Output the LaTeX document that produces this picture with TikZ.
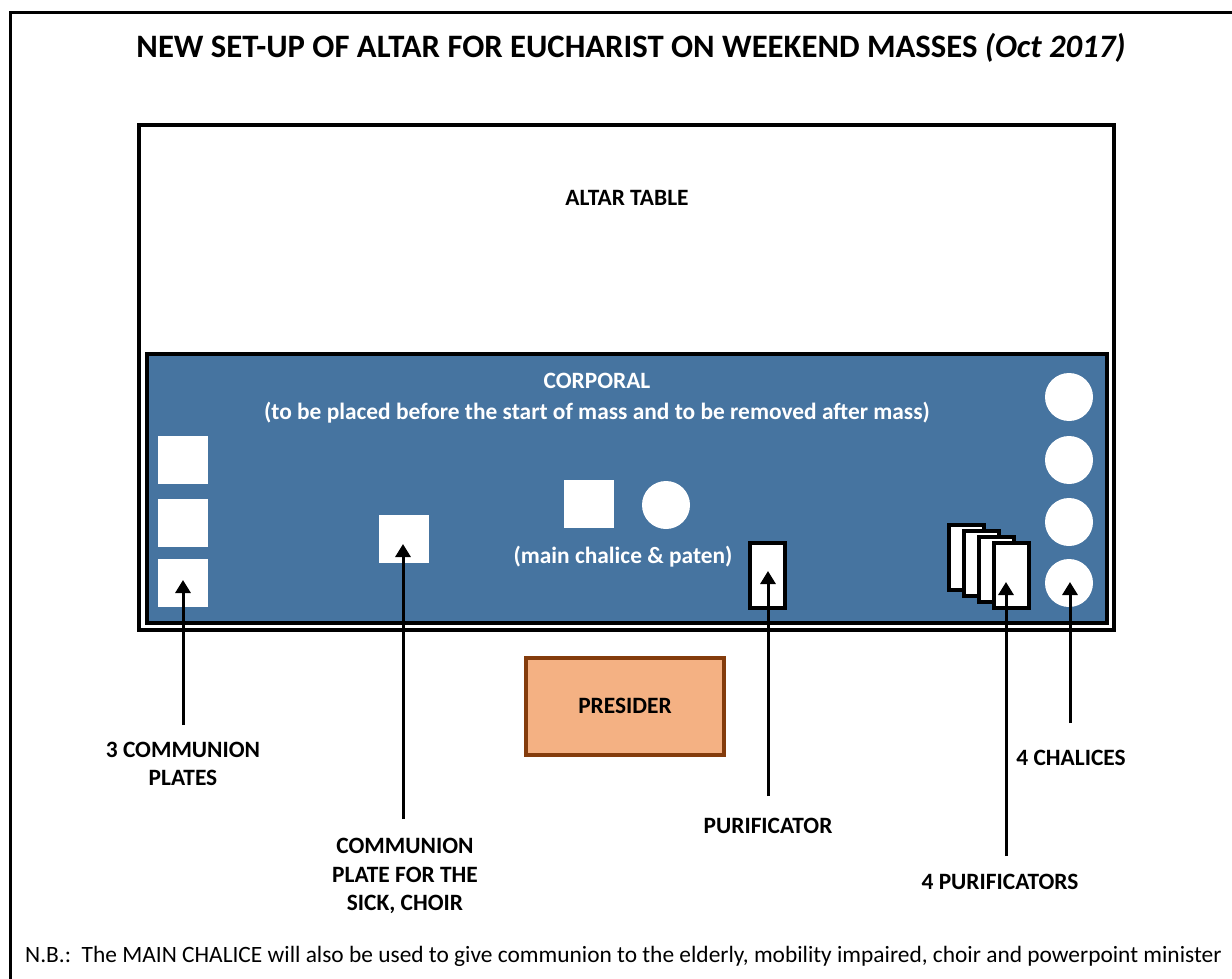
\documentclass[tikz,border=0pt]{standalone}
\usepackage{fontspec}
\setmainfont{Carlito}
\usetikzlibrary{arrows.meta}
\definecolor{corpblue}{RGB}{70,116,160}
\definecolor{presfill}{RGB}{244,177,131}
\definecolor{presborder}{RGB}{132,60,12}
\begin{document}
\begin{tikzpicture}[x=1pt,y=-1pt,
  lbl/.style={font=\bfseries\fontsize{23.4}{28.5}\selectfont, align=center, inner sep=0pt},
  whitelbl/.style={font=\bfseries\fontsize{23.4}{28}\selectfont, text=white, inner sep=0pt},
  plate/.style={fill=white, draw=none, minimum width=50pt, minimum height=48pt, inner sep=0pt},
  disc/.style={fill=white, draw=none, circle, minimum size=48pt, inner sep=0pt},
  purif/.style={fill=white, draw=black, line width=4pt, minimum width=35pt, minimum height=65pt, inner sep=0pt},
  arr/.style={line width=3pt, -{Triangle[width=15pt,length=13pt]}}]
\useasboundingbox (0,0) rectangle (1232,979);
\fill[white] (0,0) rectangle (1232,979);
% outer frame (partly cropped)
\draw[line width=3pt] (10,979) -- (10,13) -- (1232,13);
% title
\node[font=\bfseries\fontsize{32.7}{36}\selectfont, inner sep=0pt] (title) at (631,48) {NEW SET-UP OF ALTAR FOR EUCHARIST ON WEEKEND MASSES \textit{(Oct 2017)}};
% altar table
\draw[line width=4pt, fill=white] (139,125) rectangle (1114,630);
\node[lbl] (altar) at (627,198) {ALTAR TABLE};
% corporal
\draw[line width=4pt, fill=corpblue] (147,354) rectangle (1107,623);
\node[whitelbl] (corp) at (597,381) {CORPORAL};
\node[whitelbl] (corp2) at (597,413) {(to be placed before the start of mass and to be removed after mass)};
% communion plates
\node[plate] (p1) at (183,460) {};
\node[plate] (p2) at (183,523) {};
\node[plate] (p3) at (183,583) {};
\node[plate] (p4) at (404,539) {};
% main chalice & paten
\node[plate] (mainpaten) at (589,504) {};
\node[disc] (mainchal) at (666,505) {};
\node[whitelbl] (mainlbl) at (623,557) {(main chalice \& paten)};
% purificator
\node[purif] (pur) at (767,575) {};
% 4 purificators
\node[purif] (q1) at (966,557) {};
\node[purif] (q2) at (981,563) {};
\node[purif] (q3) at (996,569) {};
\node[purif] (q4) at (1011,575) {};
% 4 chalices
\node[disc] (c1) at (1069,397) {};
\node[disc] (c2) at (1069,460) {};
\node[disc] (c3) at (1069,522) {};
\node[disc] (c4) at (1069,583) {};
% presider
\node[draw=presborder, fill=presfill, line width=4pt, minimum width=198pt, minimum height=97pt, inner sep=0pt, font=\bfseries\fontsize{23.4}{28}\selectfont] (pres) at (625,706) {PRESIDER};
% labels
\node[lbl] (l1) at (183,764) {3 COMMUNION\\PLATES};
\node[lbl] (l2) at (405,876) {COMMUNION\\PLATE FOR THE\\SICK, CHOIR};
\node[lbl] (l3) at (768,826) {PURIFICATOR};
\node[lbl] (l4) at (1000,882) {4 PURIFICATORS};
\node[lbl] (l5) at (1071,758) {4 CHALICES};
% arrow coordinates
\coordinate (t1) at (183,580);
\coordinate (t2) at (403,544);
\coordinate (t3) at (768,571);
\coordinate (t4) at (1006,582);
\coordinate (t5) at (1070,582);
\coordinate (s1) at (183,725);
\coordinate (s2) at (403,819);
\coordinate (s3) at (768,796);
\coordinate (s4) at (1006,856);
\coordinate (s5) at (1070,723);
\draw[arr] (s1) -- (t1);
\draw[arr] (s2) -- (t2);
\draw[arr] (s3) -- (t3);
\draw[arr] (s4) -- (t4);
\draw[arr] (s5) -- (t5);
% note
\node[anchor=base west, font=\fontsize{23.4}{28}\selectfont, inner sep=0pt] (nb) at (25,962) {N.B.:\ \ The MAIN CHALICE will also be used to give communion to the elderly, mobility impaired, choir and powerpoint minister};
\end{tikzpicture}
\end{document}
